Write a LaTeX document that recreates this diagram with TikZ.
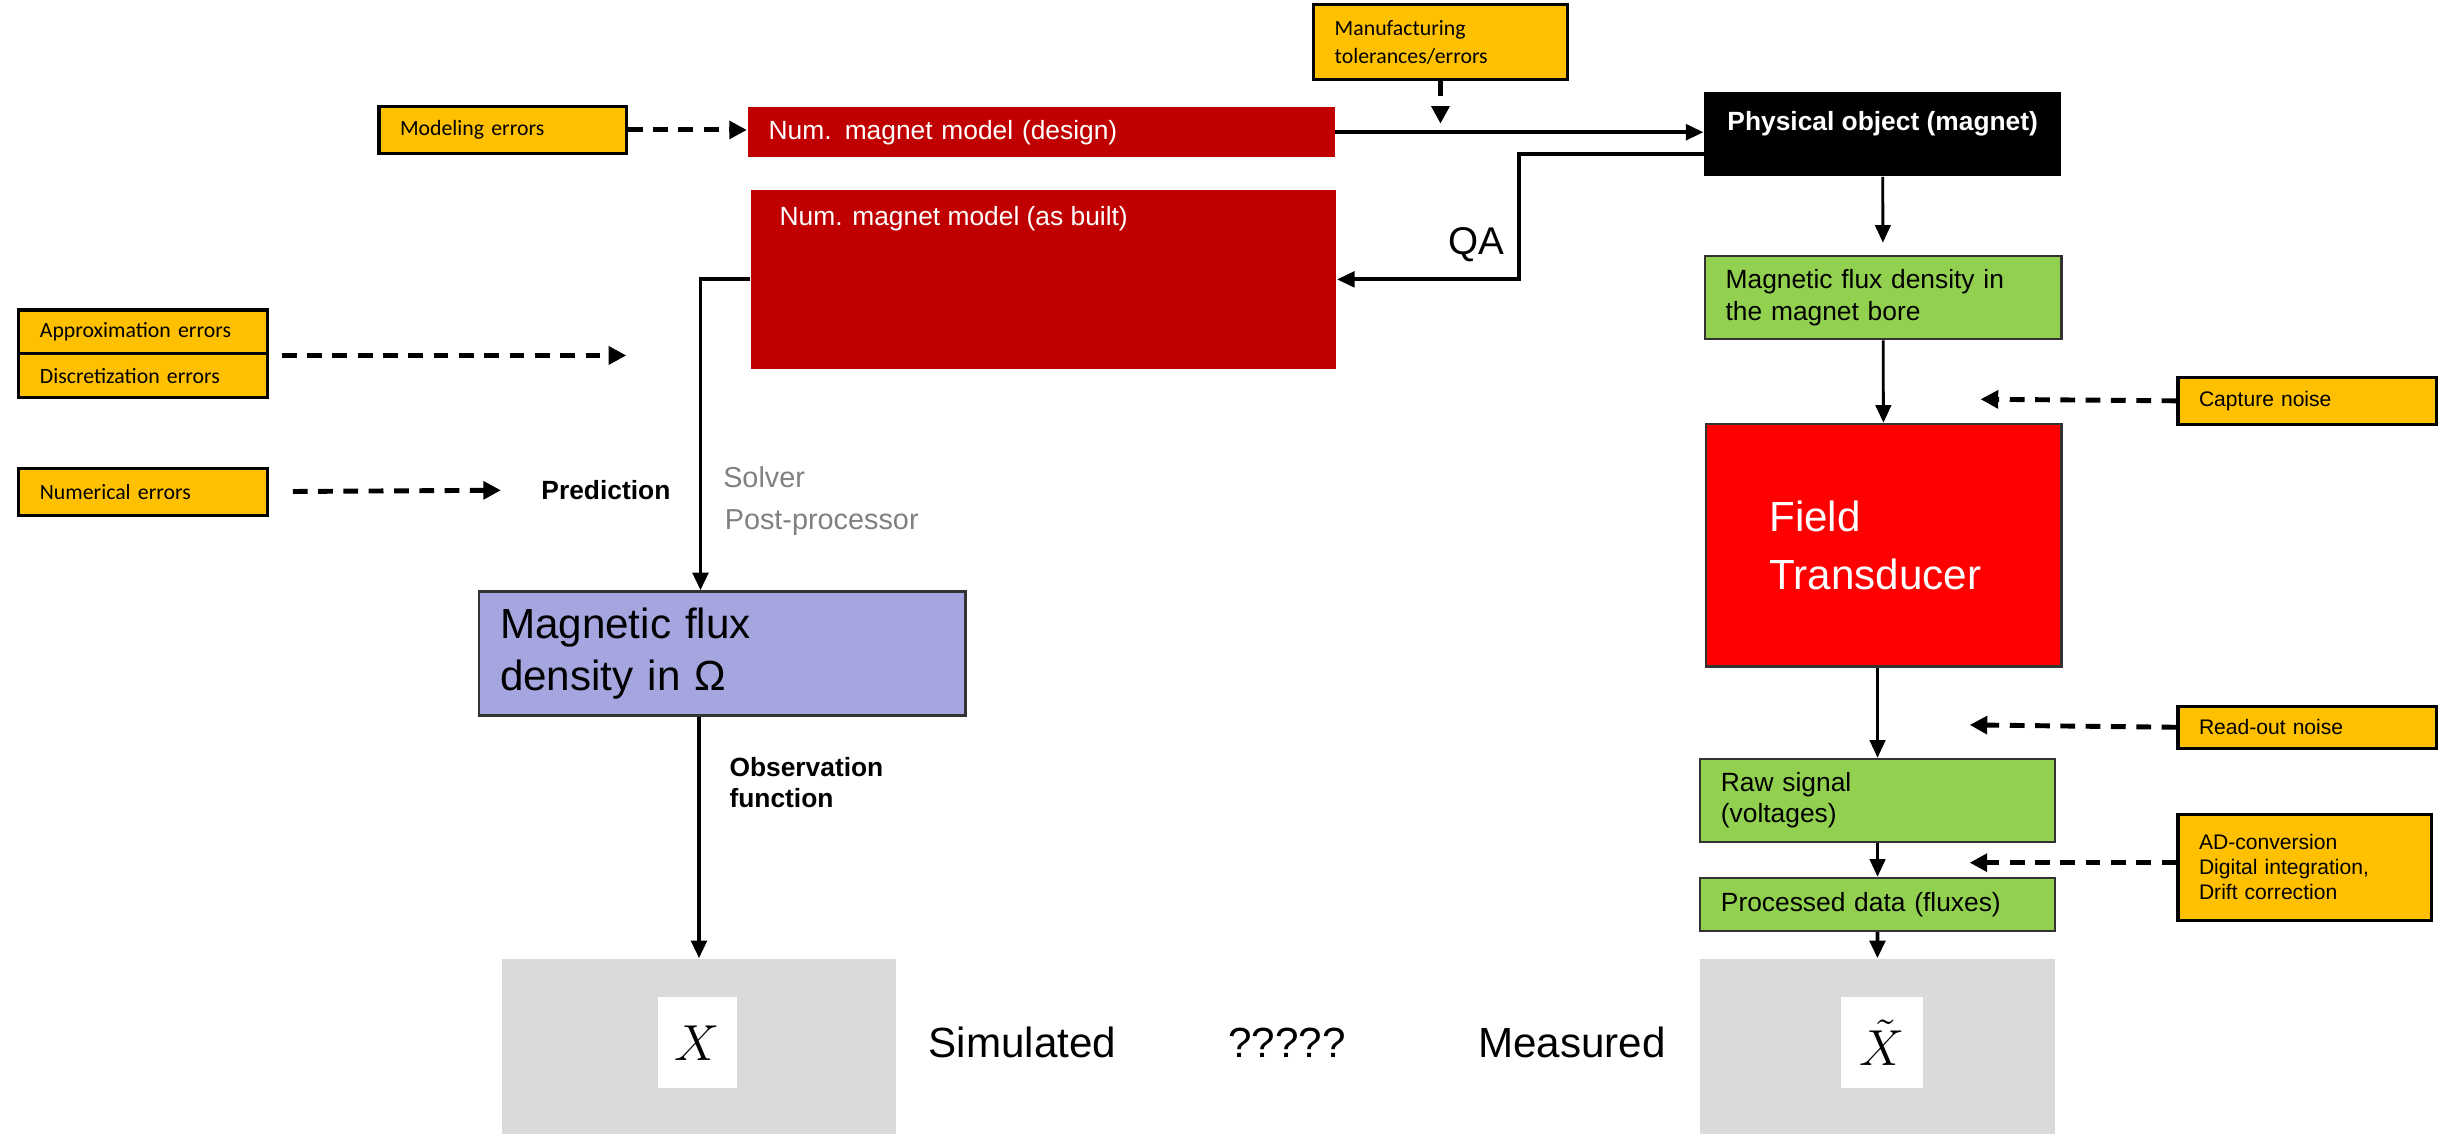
\documentclass[tikz,border=0pt]{standalone}
\usepackage{fontspec}
\setmainfont{Liberation Sans}
\newfontfamily\calfont{Carlito}
\usetikzlibrary{positioning, arrows.meta, calc}
\definecolor{ErrYellow}{HTML}{FFC000}
\definecolor{ModelRed}{HTML}{C00000}
\definecolor{SensorRed}{HTML}{FF0000}
\definecolor{DataGreen}{HTML}{92D050}
\definecolor{FieldBlue}{HTML}{A5A5E0}
\definecolor{ValueGray}{HTML}{DADADA}
\definecolor{NoteGray}{HTML}{808080}
\def\pxu{0.15657mm}
\tikzset{
  sized/.style n args={2}{minimum width=#1*\pxu, minimum height=#2*\pxu, text width=#1*\pxu-12pt,
    inner xsep=6pt, inner ysep=0pt, align=left, anchor=north west}
}

\begin{document}
\begin{tikzpicture}[
    x=0.15657mm, y=-0.15657mm,
    err/.style={draw=black, line width=0.9pt, fill=ErrYellow, font=\fontsize{6}{8}\selectfont},
    errcal/.style={err, font=\calfont\fontsize{6.2}{8}\selectfont},
    model/.style={fill=ModelRed, text=white, font=\fontsize{7.5}{9}\selectfont},
    data/.style={draw=black!80, line width=0.6pt, fill=DataGreen, font=\fontsize{7.5}{8.9}\selectfont},
    vbox/.style={fill=white, minimum width=51*\pxu, minimum height=58*\pxu, inner sep=0pt, font=\fontsize{14}{16}\selectfont},
    note/.style={font=\fontsize{7.5}{8.9}\selectfont\bfseries, align=left},
    big/.style={font=\fontsize{12}{14}\selectfont},
    flow/.style={-{Triangle[length=5pt, width=4.4pt]}, line width=1.1pt},
    thin flow/.style={flow, line width=0.8pt},
    noise/.style={-{Triangle[length=5pt, width=5pt]}, line width=1.4pt, dash pattern=on 4.2pt off 3pt}
  ]
  \useasboundingbox (0,0) rectangle (1568,724);

  % simulation side
  \node[sized={158}{30}, errcal] (modeling) at (241,67) {Modeling errors};
  \node[sized={375}{32}, model] (design) at (477,68) {Num. magnet model (design)};
  \node[sized={162}{48}, errcal] (manuf) at (838,2) {Manufacturing\\tolerances/errors};
  \node[sized={374}{114}, model,
    label={[anchor=north west, text=white, font=\fontsize{7.5}{9}\selectfont, xshift=11*\pxu, yshift=-3*\pxu]north west:Num. magnet model (as built)}] (asbuilt) at (479,121) {};
  \node[sized={159}{28}, errcal] (approx) at (11,197) {Approximation errors};
  \node[sized={159}{28}, errcal] (discr) at (11,225) {Discretization errors};
  \node[sized={159}{30}, errcal] (numerr) at (11,298) {Numerical errors};
  \node[note] (predict) at (387,313) {Prediction};
  \node[anchor=west, text=NoteGray, font=\fontsize{8.2}{10}\selectfont] (solver) at (454,305) {Solver};
  \node[anchor=west, text=NoteGray, font=\fontsize{8.2}{10}\selectfont] (postproc) at (455,334) {Post-processor};
  \node[sized={311}{79}, draw=black!80, line width=0.8pt, fill=FieldBlue, font=\fontsize{12}{14.7}\selectfont] (flux) at (305,377) {Magnetic flux\\density in Ω};
  \node[note, anchor=west] (obsfun) at (458,500) {Observation\\function};
  \node[sized={252}{112}, fill=ValueGray] (simX) at (320,612) {};
  \node[vbox] (simXv) at (445.5,666) {$X$};

  % measurement side
  \node[sized={228}{54}, fill=black,
    label={[anchor=north, text=white, font=\fontsize{7.5}{9}\selectfont\bfseries, yshift=-5*\pxu]north:Physical object (magnet)}] (phys) at (1088,58) {};
  \node[font=\fontsize{11}{13}\selectfont] (qa) at (943,156) {QA};
  \node[sized={228}{53}, data] (bore) at (1088,163) {Magnetic flux density in\\the magnet bore};
  \node[sized={165}{30}, err] (capture) at (1390,240) {Capture noise};
  \node[sized={227}{155}, draw=black!80, line width=0.6pt, fill=SensorRed, text=white,
    inner xsep=18pt, text width=227*\pxu-36pt, font=\fontsize{12}{16.5}\selectfont] (transducer) at (1089,270) {Field\\Transducer};
  \node[sized={165}{27}, err] (readout) at (1390,450) {Read-out noise};
  \node[sized={227}{53}, data] (raw) at (1085,484) {Raw signal\\(voltages)};
  \node[sized={162}{68}, err, font=\fontsize{6}{7.1}\selectfont] (adconv) at (1390,519) {AD-conversion\\Digital integration,\\Drift correction};
  \node[sized={227}{34}, data] (processed) at (1085,560) {Processed data (fluxes)};
  \node[sized={227}{112}, fill=ValueGray] (measX) at (1085,612) {};
  \node[vbox, minimum width=52*\pxu] (measXv) at (1202,666) {$\tilde{X}$};

  % comparison
  \node[big] (simlab) at (653,666) {Simulated};
  \node[big] (unknown) at (822,666) {?????};
  \node[big] (measlab) at (1004,666) {Measured};

  % connectors
  \coordinate (mfgin) at (920,79);
  \coordinate (approxin) at ($(approx.south east)+(228,0)$);
  \coordinate (capturein) at (1265,255);
  \coordinate (readin) at (1258,463);
  \coordinate (adin) at (1258,551);
  \draw[noise] (modeling.east) -- (modeling.east -| design.west);
  \draw[flow] (design.east) -- (design.east -| phys.west);
  \draw[noise] (manuf.south) -- (manuf.south |- mfgin);
  \draw[flow] ($(phys.west)+(0,13)$) -| ($(asbuilt.east)+(116,0)$) -- (asbuilt.east);
  \draw[flow] (asbuilt.west) -| ($(flux.north)+(-14,0)$);
  \draw[flow] (simX.north |- flux.south) -- (simX.north);
  \draw[noise] ([xshift=8*\pxu]approx.south east) -- (approxin);
  \draw[noise, shorten <=15*\pxu, shorten >=18*\pxu] (numerr.east) -- (predict.west);
  \draw[thin flow, shorten >=8*\pxu] (phys) -- (bore);
  \draw[thin flow] (bore) -- (transducer);
  \draw[noise] (capture.west) -- (capturein);
  \draw[thin flow] (raw.north |- transducer.south) -- (raw.north);
  \draw[noise] (readout.west) -- (readin);
  \draw[thin flow] (raw) -- (processed);
  \draw[noise] (adconv.west |- adin) -- (adin);
  \draw[flow] (processed) -- (measX);
\end{tikzpicture}
\end{document}
